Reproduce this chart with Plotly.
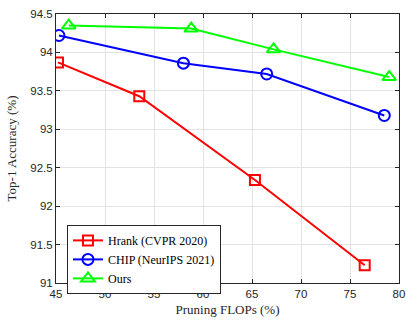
import plotly.graph_objects as go

hrank_x = [45.2, 53.5, 65.3, 76.5]
hrank_y = [93.87, 93.43, 92.34, 91.23]
chip_x = [45.3, 58.0, 66.5, 78.5]
chip_y = [94.22, 93.86, 93.72, 93.18]
ours_x = [46.3, 58.8, 67.2, 79.0]
ours_y = [94.35, 94.31, 94.04, 93.68]

series = [
    ("Hrank (CVPR 2020)", hrank_x, hrank_y, "#ff0000", "square-open", 10),
    ("CHIP (NeurIPS 2021)", chip_x, chip_y, "#0000ff", "circle-open", 11),
    ("Ours", ours_x, ours_y, "#00ff00", "triangle-up-open", 12),
]

fig = go.Figure()
for name, xs, ys, color, sym, sz in series:
    fig.add_trace(go.Scatter(
        x=xs, y=ys, name=name, mode="lines+markers",
        line=dict(color=color, width=2),
        marker=dict(symbol=sym, size=sz, color=color, line=dict(color=color, width=2)),
    ))

axis_common = dict(
    showline=True, mirror="ticks", linecolor="#262626", linewidth=1,
    ticks="inside", ticklen=4, tickcolor="#262626",
    showgrid=True, gridcolor="#e3e3e3", gridwidth=1,
    zeroline=False, automargin=False,
    tickfont=dict(family="Liberation Sans, Arial", size=11.5, color="#262626"),
)

fig.update_xaxes(range=[45, 80], dtick=5, tick0=45,
                 title=dict(text="Pruning FLOPs (%)", standoff=6,
                            font=dict(family="Liberation Serif, Times New Roman", size=13, color="#262626")),
                 **axis_common)
fig.update_yaxes(range=[91, 94.5], dtick=0.5, tick0=91,
                 title=dict(text="Top-1 Accuracy (%)", standoff=10,
                            font=dict(family="Liberation Serif, Times New Roman", size=13, color="#262626")),
                 **axis_common)

fig.update_layout(
    width=406, height=322,
    margin=dict(l=56, r=7, t=14, b=39),
    plot_bgcolor="white", paper_bgcolor="white",
    legend=dict(x=0.032, y=0.216, xanchor="left", yanchor="top",
                bgcolor="white", bordercolor="#262626", borderwidth=1,
                font=dict(family="Liberation Serif, Times New Roman", size=12, color="#000000"),
                tracegroupgap=0, itemwidth=30),
    showlegend=True,
)

fig.write_html("out.html", config={"displayModeBar": False},
               post_script="document.body.style.margin='0';document.body.style.padding='0';")
